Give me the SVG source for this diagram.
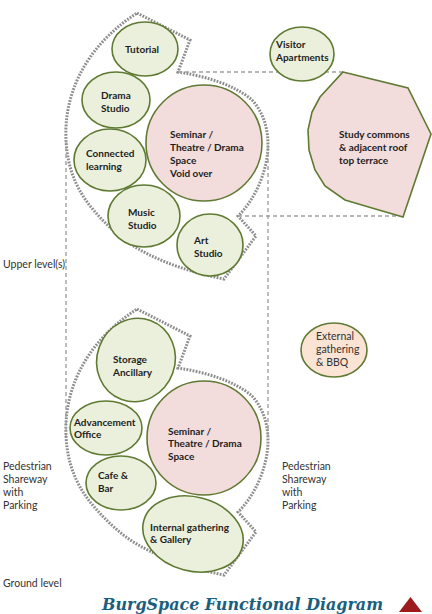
<svg xmlns="http://www.w3.org/2000/svg" width="432" height="614" viewBox="0 0 432 614">
<style>
.g{fill:#ebf0dc;stroke:#5f7a32;stroke-width:1.6}
.p{fill:#f2dcdc;stroke:#5f7a32;stroke-width:1.6}
.o{fill:#fbe4d3;stroke:#5f7a32;stroke-width:1.6}
.dot{fill:none;stroke:#8e8e8e;stroke-width:3;stroke-dasharray:1.8 1.3}
.dash{fill:none;stroke:#a0a0a0;stroke-width:1.4;stroke-dasharray:4 3}
.b{font-family:Lato,"Liberation Sans",sans-serif;font-weight:bold;font-size:10px;fill:#1e1e1e}
.r{font-family:Lato,"Liberation Sans",sans-serif;font-size:10.5px;fill:#333}
.t{font-family:"DejaVu Serif","Liberation Serif",serif;font-weight:bold;font-style:italic;font-size:16px;fill:#1b5f80}
</style>
<defs>
<path id="outline" d="M137,13 L190,40 L178,72 C205,76 235,85 252,100 C263,112 268,128 268,145 C268,170 255,200 238,216 L256,236 L224,279 C180,270 140,255 115,232 C85,205 68,180 66,140 C64,100 80,50 137,13 Z"/>
</defs>
<g id="connectors">
<use href="#outline" class="dot"/>
<use href="#outline" class="dot" transform="translate(0,296)"/>
<line class="dash" x1="66" y1="140" x2="66" y2="436"/>
<line class="dash" x1="268" y1="145" x2="268" y2="436"/>
<line class="dash" x1="178" y1="72" x2="343" y2="72"/>
<line class="dash" x1="238" y1="216" x2="404" y2="216"/>
</g>
<g id="tutorial"><ellipse class="g" cx="145" cy="49" rx="33" ry="27"/><text class="b" x="125" y="53">Tutorial</text></g>
<g id="drama-studio"><ellipse class="g" cx="116" cy="100" rx="34" ry="28"/><text class="b" x="101" y="99">Drama</text><text class="b" x="101" y="112">Studio</text></g>
<g id="connected-learning"><ellipse class="g" cx="110" cy="160" rx="36" ry="31"/><text class="b" x="86" y="157">Connected</text><text class="b" x="86" y="170">learning</text></g>
<g id="music-studio"><ellipse class="g" cx="144" cy="216" rx="36" ry="31"/><text class="b" x="128" y="216">Music</text><text class="b" x="128" y="229">Studio</text></g>
<g id="art-studio"><ellipse class="g" cx="210" cy="245" rx="33" ry="31"/><text class="b" x="194" y="244">Art</text><text class="b" x="194" y="257">Studio</text></g>
<g id="seminar-upper"><circle class="p" cx="204" cy="143" r="58"/><text class="b" x="170" y="138">Seminar /</text><text class="b" x="170" y="151">Theatre / Drama</text><text class="b" x="170" y="164">Space</text><text class="b" x="170" y="177">Void over</text></g>
<g id="visitor-apartments"><ellipse class="g" cx="302" cy="54" rx="32" ry="27"/><text class="b" x="276" y="48">Visitor</text><text class="b" x="276" y="61">Apartments</text></g>
<g id="study-commons"><polygon class="p" points="343,72 408,88 431,134 403,217 372,208 345,200 325,186 315,170 309,150 308,130 312,112 320,97"/><text class="b" x="339" y="138">Study commons</text><text class="b" x="339" y="151">&amp; adjacent roof</text><text class="b" x="339" y="164">top terrace</text></g>
<g id="storage-ancillary"><ellipse class="g" cx="136" cy="360" rx="39" ry="42" transform="rotate(20 136 360)"/><text class="b" x="113" y="363">Storage</text><text class="b" x="113" y="376">Ancillary</text></g>
<g id="advancement-office"><ellipse class="g" cx="106" cy="428" rx="36" ry="27"/><text class="b" x="74" y="426">Advancement</text><text class="b" x="74" y="438">Office</text></g>
<g id="seminar-lower"><circle class="p" cx="204" cy="438" r="57"/><text class="b" x="168" y="435">Seminar /</text><text class="b" x="168" y="447">Theatre / Drama</text><text class="b" x="168" y="460">Space</text></g>
<g id="cafe-bar"><ellipse class="g" cx="121" cy="483" rx="35" ry="27"/><text class="b" x="98" y="479">Cafe &amp;</text><text class="b" x="98" y="492">Bar</text></g>
<g id="internal-gathering"><ellipse class="g" cx="193" cy="534" rx="51" ry="37" transform="rotate(15 193 534)"/><text class="b" x="150" y="531">Internal gathering</text><text class="b" x="150" y="543">&amp; Gallery</text></g>
<g id="external-gathering"><ellipse class="o" cx="334" cy="350" rx="33" ry="27"/><text class="r" x="316" y="340">External</text><text class="r" x="316" y="353">gathering</text><text class="r" x="316" y="366">&amp; BBQ</text></g>
<g id="labels">
<text class="r" x="3" y="268">Upper level(s)</text>
<text class="r" x="3" y="470">Pedestrian</text><text class="r" x="3" y="483">Shareway</text><text class="r" x="3" y="496">with</text><text class="r" x="3" y="509">Parking</text>
<text class="r" x="282" y="470">Pedestrian</text><text class="r" x="282" y="483">Shareway</text><text class="r" x="282" y="496">with</text><text class="r" x="282" y="509">Parking</text>
<text class="r" x="3" y="587">Ground level</text>
</g>
<g id="title">
<text class="t" x="102" y="610" textLength="281" lengthAdjust="spacingAndGlyphs">BurgSpace Functional Diagram</text>
<polygon points="399,612 422,612 410.5,597" fill="#9e1b1d"/>
</g>
</svg>
